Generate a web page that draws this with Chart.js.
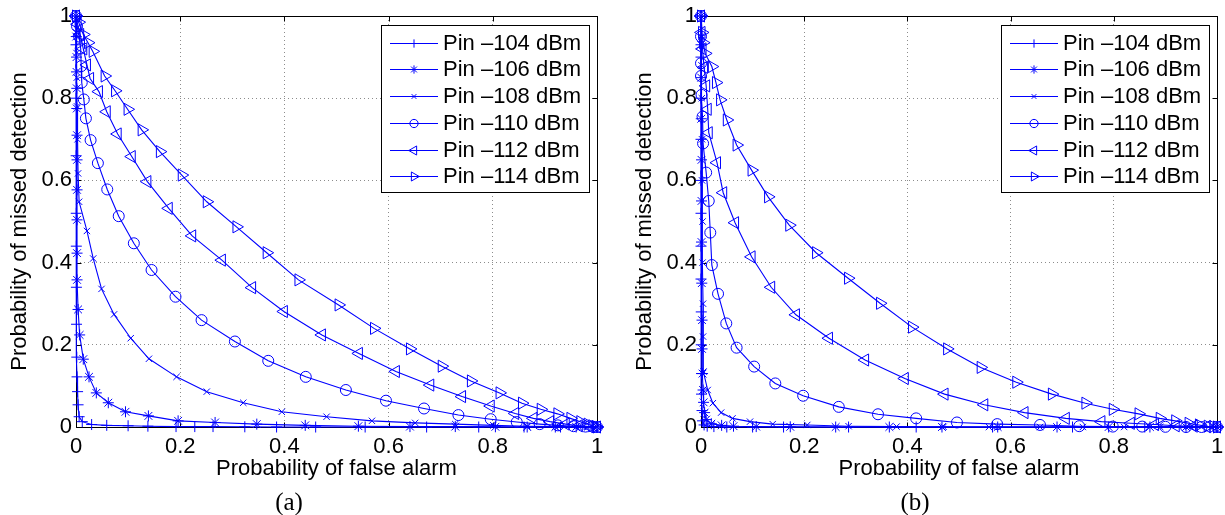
<!DOCTYPE html>
<html>
<head>
<meta charset="utf-8">
<title>ROC curves</title>
<script src="https://cdn.jsdelivr.net/npm/chart.js@4/dist/chart.umd.min.js"></script>
<style>
  body { margin: 0; background: #fff; }
  canvas { position: absolute; top: 0; }
  #chartA { left: 0; }
  #chartB { left: 612px; }
</style>
</head>
<body>
<canvas id="chartA" width="612" height="515"></canvas>
<canvas id="chartB" width="613" height="515"></canvas>
<script>
// (x, y) pairs: probability of false alarm, probability of missed detection
// subplot (a)
const a104 = [[0,1],[0,0.93],[0.0002,0.80],[0.0003,0.66],[0.0005,0.52],[0.0006,0.44],[0.0008,0.34],[0.001,0.25],[0.0015,0.17],[0.002,0.122],[0.003,0.086],[0.004,0.054],[0.006,0.025],[0.012,0.013],[0.03,0.006],[0.059,0.004],[0.10,0.003],[0.138,0.002],[0.192,0.001],[0.228,0.001],[0.263,0.001],[0.324,0.0005],[0.385,0],[0.46,0],[0.555,0],[0.673,0],[0.773,0],[0.86,0],[0.93,0],[1,0]];
const a106 = [[0,1],[0.0005,0.95],[0.001,0.90],[0.001,0.864],[0.0015,0.824],[0.0015,0.775],[0.002,0.71],[0.002,0.65],[0.002,0.577],[0.002,0.504],[0.002,0.423],[0.002,0.358],[0.004,0.286],[0.007,0.224],[0.014,0.165],[0.025,0.122],[0.039,0.083],[0.062,0.059],[0.095,0.037],[0.139,0.027],[0.196,0.015],[0.267,0.011],[0.347,0.007],[0.440,0.004],[0.542,0.002],[0.641,0.001],[0.728,0.001],[0.805,0.0005],[0.866,0],[0.92,0],[0.96,0],[1,0]];
const a108 = [[0,1],[0.0005,0.96],[0.001,0.91],[0.0015,0.85],[0.002,0.78],[0.003,0.70],[0.004,0.617],[0.006,0.548],[0.021,0.477],[0.033,0.41],[0.049,0.336],[0.073,0.274],[0.105,0.216],[0.140,0.166],[0.193,0.122],[0.251,0.086],[0.321,0.059],[0.395,0.037],[0.481,0.025],[0.568,0.015],[0.651,0.010],[0.728,0.007],[0.801,0.004],[0.866,0.002],[0.92,0.001],[0.96,0.0005],[1,0]];
const a110 = [[0,1],[0.002,0.975],[0.006,0.95],[0.009,0.921],[0.010,0.878],[0.011,0.838],[0.015,0.797],[0.019,0.751],[0.028,0.698],[0.042,0.642],[0.060,0.578],[0.082,0.513],[0.111,0.447],[0.145,0.382],[0.191,0.317],[0.241,0.260],[0.305,0.208],[0.369,0.161],[0.441,0.122],[0.518,0.090],[0.595,0.064],[0.668,0.045],[0.734,0.029],[0.796,0.019],[0.846,0.012],[0.89,0.007],[0.925,0.004],[0.955,0.002],[0.978,0.001],[1,0]];
const a112 = [[0,1],[0.003,0.98],[0.008,0.955],[0.014,0.92],[0.021,0.881],[0.027,0.848],[0.044,0.816],[0.059,0.767],[0.080,0.713],[0.107,0.658],[0.137,0.597],[0.178,0.532],[0.223,0.465],[0.280,0.406],[0.338,0.339],[0.399,0.281],[0.472,0.224],[0.543,0.179],[0.614,0.135],[0.680,0.102],[0.741,0.074],[0.796,0.051],[0.843,0.033],[0.878,0.021],[0.910,0.013],[0.94,0.007],[0.965,0.003],[0.985,0.001],[1,0]];
const a114 = [[0,1],[0.005,0.985],[0.014,0.955],[0.023,0.935],[0.032,0.914],[0.055,0.854],[0.075,0.818],[0.099,0.773],[0.126,0.723],[0.161,0.670],[0.203,0.613],[0.251,0.548],[0.308,0.487],[0.366,0.424],[0.427,0.358],[0.504,0.297],[0.572,0.240],[0.641,0.190],[0.702,0.148],[0.758,0.112],[0.813,0.083],[0.856,0.058],[0.892,0.043],[0.924,0.032],[0.949,0.021],[0.968,0.013],[0.982,0.007],[0.991,0.003],[0.997,0.001],[1,0]];

// subplot (b)
const b104 = [[0,1],[0,0.9],[0,0.8],[0,0.7],[0,0.6],[0,0.52],[0,0.44],[0,0.36],[0.0005,0.28],[0.0005,0.2],[0.001,0.13],[0.001,0.08],[0.002,0.04],[0.003,0.015],[0.006,0.005],[0.012,0.002],[0.025,0.001],[0.05,0],[0.1,0],[0.16,0],[0.286,0],[0.417,0],[0.565,0],[0.72,0],[0.86,0],[1,0]];
const b106 = [[0,1],[0,0.93],[0.0005,0.85],[0.0005,0.75],[0.001,0.65],[0.001,0.55],[0.001,0.45],[0.0015,0.35],[0.002,0.26],[0.002,0.19],[0.003,0.13],[0.004,0.09],[0.005,0.06],[0.007,0.035],[0.010,0.018],[0.02,0.008],[0.04,0.004],[0.063,0.002],[0.107,0.001],[0.173,0.0005],[0.261,0],[0.365,0],[0.467,0],[0.575,0],[0.69,0],[0.79,0],[0.87,0],[0.94,0],[1,0]];
const b108 = [[0,1],[0.0005,0.95],[0.001,0.88],[0.0015,0.80],[0.002,0.70],[0.002,0.60],[0.003,0.50],[0.003,0.40],[0.004,0.30],[0.004,0.22],[0.005,0.135],[0.013,0.090],[0.023,0.058],[0.039,0.035],[0.061,0.021],[0.095,0.013],[0.139,0.007],[0.206,0.005],[0.286,0.002],[0.379,0.001],[0.47,0.0005],[0.558,0],[0.657,0],[0.74,0],[0.82,0],[0.89,0],[0.95,0],[1,0]];
const b110 = [[0,1],[0,0.95],[0,0.885],[0,0.854],[0.001,0.808],[0.003,0.755],[0.004,0.690],[0.010,0.619],[0.015,0.550],[0.018,0.473],[0.021,0.394],[0.033,0.324],[0.049,0.252],[0.069,0.193],[0.103,0.147],[0.144,0.106],[0.198,0.076],[0.267,0.049],[0.343,0.031],[0.417,0.021],[0.496,0.011],[0.574,0.007],[0.657,0.005],[0.733,0.002],[0.798,0.001],[0.855,0.001],[0.90,0.0005],[0.94,0],[0.97,0],[1,0]];
const b112 = [[0,1],[0.001,0.96],[0.003,0.92],[0.006,0.875],[0.010,0.830],[0.013,0.773],[0.015,0.716],[0.031,0.643],[0.043,0.570],[0.066,0.497],[0.098,0.414],[0.136,0.340],[0.184,0.273],[0.248,0.216],[0.318,0.163],[0.395,0.118],[0.472,0.080],[0.549,0.054],[0.627,0.035],[0.707,0.021],[0.776,0.013],[0.833,0.009],[0.88,0.006],[0.92,0.003],[0.955,0.002],[0.98,0.001],[1,0]];
const b114 = [[0,1],[0.002,0.96],[0.004,0.935],[0.008,0.909],[0.021,0.877],[0.029,0.838],[0.037,0.796],[0.050,0.747],[0.069,0.686],[0.098,0.625],[0.130,0.560],[0.171,0.491],[0.223,0.424],[0.285,0.362],[0.347,0.301],[0.409,0.243],[0.477,0.190],[0.542,0.145],[0.611,0.109],[0.680,0.080],[0.745,0.058],[0.798,0.043],[0.848,0.032],[0.889,0.021],[0.919,0.015],[0.945,0.009],[0.965,0.005],[0.982,0.002],[0.993,0.001],[1,0]];

const seriesLabels = ['Pin –104 dBm', 'Pin –106 dBm', 'Pin –108 dBm', 'Pin –110 dBm', 'Pin –112 dBm', 'Pin –114 dBm'];
const axisTicks = [0, 0.2, 0.4, 0.6, 0.8, 1];

// marker per series, like MATLAB '+', '*', 'x', 'o', '<', '>'
const markerStyle = ['cross', 'star', 'crossRot', 'circle', 'triangle', 'triangle'];
const markerRotation = [0, 0, 0, 0, -90, 90];
const markerRadius = [5.5, 5.5, 4.5, 5.5, 7, 7];

const BLUE = '#0000ff';
Chart.defaults.font.family = '"Liberation Sans", Arial, sans-serif';
Chart.defaults.color = '#000';

// legend marker (same shapes as the chart points)
function drawMarker(ctx, style, rot, x, y, r) {
    ctx.beginPath();
    if (style === 'cross' || style === 'star') {
        ctx.moveTo(x - r, y); ctx.lineTo(x + r, y);
        ctx.moveTo(x, y - r); ctx.lineTo(x, y + r);
    }
    if (style === 'crossRot' || style === 'star') {
        const d = r * Math.SQRT1_2;
        ctx.moveTo(x - d, y - d); ctx.lineTo(x + d, y + d);
        ctx.moveTo(x - d, y + d); ctx.lineTo(x + d, y - d);
    }
    if (style === 'circle') {
        ctx.arc(x, y, r, 0, Math.PI * 2);
    }
    if (style === 'triangle') {
        let a = rot * Math.PI / 180;
        ctx.moveTo(x + Math.sin(a) * r, y - Math.cos(a) * r);
        for (let k = 0; k < 2; k++) {
            a += Math.PI * 2 / 3;
            ctx.lineTo(x + Math.sin(a) * r, y - Math.cos(a) * r);
        }
        ctx.closePath();
    }
    ctx.stroke();
}

// box, inward ticks, legend and caption drawn like a MATLAB axes
const matlabFrame = {
    id: 'matlabFrame',
    beforeDatasetsDraw(chart) {
        const {ctx, chartArea: ca, scales} = chart;
        const L = Math.round(ca.left) + 0.5, R = Math.round(ca.right) + 0.5;
        const T = Math.round(ca.top) + 0.5, B = Math.round(ca.bottom) + 0.5;
        ctx.save();
        ctx.strokeStyle = '#000';
        ctx.lineWidth = 1;
        ctx.strokeRect(L, T, R - L, B - T);
        ctx.beginPath();
        axisTicks.forEach(v => {
            const px = Math.round(scales.x.getPixelForValue(v)) + 0.5;
            ctx.moveTo(px, B); ctx.lineTo(px, B - 5);
            ctx.moveTo(px, T); ctx.lineTo(px, T + 5);
            const py = Math.round(scales.y.getPixelForValue(v)) + 0.5;
            ctx.moveTo(L, py); ctx.lineTo(L + 5, py);
            ctx.moveTo(R, py); ctx.lineTo(R - 5, py);
        });
        ctx.stroke();
        ctx.restore();
    },
    afterDraw(chart, args, opts) {
        const {ctx, chartArea: ca} = chart;
        const w = 208, h = 167;
        const x0 = Math.round(ca.right) - 8 - w, y0 = Math.round(ca.top) + 9;
        ctx.save();
        ctx.fillStyle = '#fff';
        ctx.fillRect(x0, y0, w, h);
        ctx.strokeStyle = '#000';
        ctx.lineWidth = 1;
        ctx.strokeRect(x0 + 0.5, y0 + 0.5, w, h);
        chart.data.datasets.forEach((ds, i) => {
            const cy = Math.round(y0 + 17.7 + i * 26.7) + 0.5;
            ctx.strokeStyle = BLUE;
            ctx.lineWidth = 1;
            ctx.beginPath();
            ctx.moveTo(x0 + 9, cy);
            ctx.lineTo(x0 + 57, cy);
            ctx.stroke();
            drawMarker(ctx, ds.pointStyle, ds.pointRotation, x0 + 33, cy, ds.pointRadius * 0.75);
            ctx.fillStyle = '#000';
            ctx.font = '22px "Liberation Sans", Arial, sans-serif';
            ctx.textAlign = 'left';
            ctx.textBaseline = 'middle';
            ctx.fillText(ds.label, x0 + 62, cy);
        });
        // subfigure caption
        ctx.fillStyle = '#000';
        ctx.font = '25px "Liberation Serif", "Times New Roman", serif';
        ctx.textAlign = 'center';
        ctx.textBaseline = 'middle';
        ctx.fillText(opts.caption, opts.captionX, 503);
        ctx.restore();
    }
};

function makeChart(canvasId, seriesList, caption, captionX, yWidth, yTitlePad, rightPad) {
    const ctx = document.getElementById(canvasId).getContext('2d');
    const datasets = seriesList.map((s, i) => ({
        label: seriesLabels[i],
        data: s.map(p => ({x: p[0], y: p[1]})),
        showLine: true,
        borderColor: BLUE,
        borderWidth: 1.1,
        pointStyle: markerStyle[i],
        pointRotation: markerRotation[i],
        pointRadius: markerRadius[i],
        pointBorderColor: BLUE,
        pointBackgroundColor: 'rgba(0,0,0,0)',
        pointBorderWidth: 1,
        tension: 0,
        clip: false
    }));
    const tickText = v => String(Math.round(v * 10) / 10);

    return new Chart(ctx, {
        type: 'scatter',
        data: {datasets: datasets},
        options: {
            responsive: false,
            animation: false,
            layout: {padding: {top: 16, right: rightPad, left: 0, bottom: 0}},
            plugins: {
                legend: {display: false},
                tooltip: {enabled: false},
                matlabFrame: {caption: caption, captionX: captionX}
            },
            scales: {
                x: {
                    type: 'linear',
                    min: 0,
                    max: 1,
                    afterBuildTicks: s => { s.ticks = axisTicks.map(v => ({value: v})); },
                    afterFit: s => { s.height = 88; s.paddingLeft = 0; s.paddingRight = 0; },
                    ticks: {padding: 7, font: {size: 22}, maxRotation: 0, callback: tickText},
                    grid: {color: '#8c8c8c', drawTicks: false},
                    border: {display: false, dash: [1, 3]},
                    title: {display: true, text: 'Probability of false alarm', font: {size: 22}, padding: {top: 0, bottom: 33}}
                },
                y: {
                    type: 'linear',
                    min: 0,
                    max: 1,
                    afterBuildTicks: s => { s.ticks = axisTicks.map(v => ({value: v})); },
                    afterFit: s => { s.width = yWidth; s.paddingTop = 0; s.paddingBottom = 0; },
                    ticks: {padding: 4, font: {size: 22}, callback: tickText},
                    grid: {color: '#8c8c8c', drawTicks: false},
                    border: {display: false, dash: [1, 3]},
                    title: {display: true, text: 'Probability of missed detection', font: {size: 22}, padding: {top: yTitlePad, bottom: 0}}
                }
            }
        },
        plugins: [matlabFrame]
    });
}

makeChart('chartA', [a104, a106, a108, a110, a112, a114], '(a)', 289, 76, 7, 15);
makeChart('chartB', [b104, b106, b108, b110, b112, b114], '(b)', 303, 89, 20, 3);
</script>
</body>
</html>
